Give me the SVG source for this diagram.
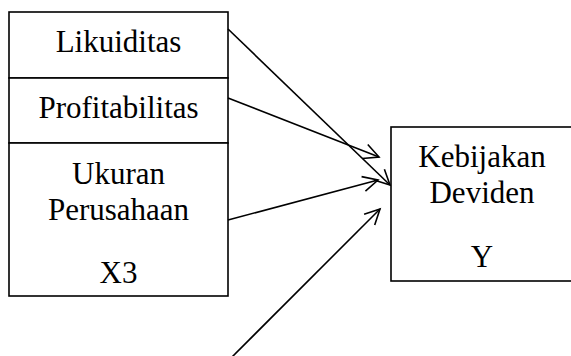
<svg xmlns="http://www.w3.org/2000/svg" width="571" height="356" viewBox="0 0 571 356">
<style>
.box{fill:#fff;stroke:#000;stroke-width:1.6}
.t{font-family:"Liberation Serif","Times New Roman",serif;font-size:31px;fill:#000;text-anchor:middle}
.c{stroke:#000;stroke-width:1.6;fill:none;marker-end:url(#ah)}
</style>
<defs>
<marker id="ah" markerUnits="userSpaceOnUse" markerWidth="20" markerHeight="20" viewBox="-16 -10 20 20" refX="0" refY="0" orient="auto">
<path d="M-15,-7.5 L0,0 L-15,7.5" fill="none" stroke="#000" stroke-width="1.6"/>
</marker>
</defs>
<rect width="571" height="356" fill="#fff"/>
<g id="x1">
<rect class="box" x="9" y="12" width="219" height="66"/>
<text class="t" x="118.5" y="52">Likuiditas</text>
</g>
<g id="x2">
<rect class="box" x="9" y="78" width="219" height="65"/>
<text class="t" x="118.5" y="118">Profitabilitas</text>
</g>
<g id="x3">
<rect class="box" x="9" y="143" width="219" height="153"/>
<text class="t" x="118.5" y="184">Ukuran</text>
<text class="t" x="118.5" y="220">Perusahaan</text>
<text class="t" x="118.5" y="283">X3</text>
</g>
<g id="y">
<rect class="box" x="391" y="127" width="184" height="154"/>
<text class="t" x="482" y="167">Kebijakan</text>
<text class="t" x="482" y="203">Deviden</text>
<text class="t" x="482" y="267">Y</text>
</g>
<g id="connectors">
<line class="c" x1="228" y1="29" x2="390" y2="185"/>
<line class="c" x1="228" y1="98" x2="379" y2="157"/>
<line class="c" x1="228" y1="220" x2="378" y2="180"/>
<line class="c" x1="232" y1="357" x2="380" y2="209"/>
</g>
</svg>
